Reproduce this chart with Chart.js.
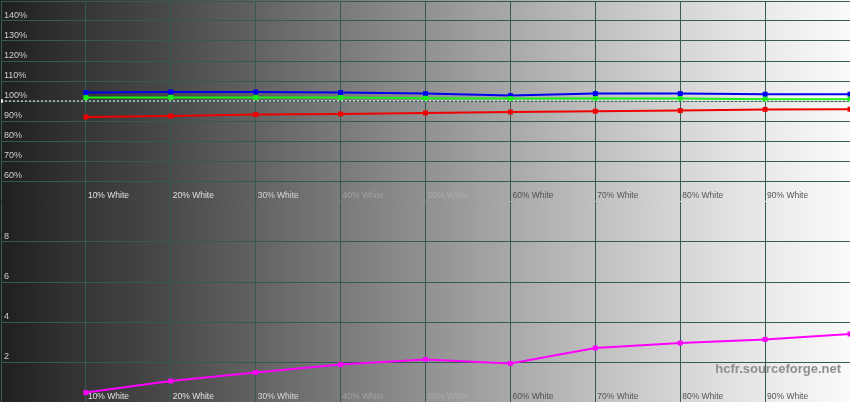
<!DOCTYPE html>
<html>
<head>
<meta charset="utf-8">
<script src="https://cdn.jsdelivr.net/npm/chart.js@4.4.1/dist/chart.umd.min.js"></script>
<style>
    html, body { margin: 0; padding: 0; background: #fff; overflow: hidden; }
    .box { position: absolute; left: 0; width: 850px; height: 201px; }
    #topBox { top: 0; }
    #bottomBox { top: 201px; }
</style>
</head>
<body>
<div class="box" id="topBox"><canvas id="rgbChart"></canvas></div>
<div class="box" id="bottomBox"><canvas id="deltaChart"></canvas></div>
<script>
// grey steps (percent of white)
const steps = [10, 20, 30, 40, 50, 60, 70, 80, 90, 100];
const stepLabels = ['10% White', '20% White', '30% White', '40% White', '50% White',
    '60% White', '70% White', '80% White', '90% White'];

// RGB levels (%)
const redLevels = [92.0, 92.5, 93.2, 93.5, 94.0, 94.5, 94.9, 95.2, 95.8, 95.9];
const greenLevels = [101.7, 101.8, 101.7, 101.7, 101.4, 101.2, 101.2, 101.2, 100.9, 100.9];
const blueLevels = [104.2, 104.5, 104.5, 104.2, 103.7, 102.7, 103.7, 103.7, 103.4, 103.4];

// delta E
const deltaE = [0.47, 1.05, 1.48, 1.87, 2.13, 1.93, 2.7, 2.95, 3.13, 3.4];

const rgbTicks = [60, 70, 80, 90, 100, 110, 120, 130, 140];
const deltaTicks = [2, 4, 6, 8];

const labelColors = ['#e0e0e0', '#e0e0e0', '#d8d8d8', '#a2a2a2', '#acacac',
    '#505050', '#555555', '#555555', '#555555'];
const gridColor = '#355a55';

function points(values) {
    return values.map((v, i) => ({ x: steps[i], y: v }));
}

const backgroundPlugin = {
    id: 'greyBackground',
    beforeDraw(chart) {
        const ctx = chart.ctx;
        const w = chart.width;
        const g = ctx.createLinearGradient(0, 0, w, 0);
        const stops = ['#1f1f1f', '#363636', '#4a4a4a', '#626262', '#7a7a7a', '#919191',
            '#a8a8a8', '#bfbfbf', '#d5d5d5', '#e9e9e9', '#fafafa'];
        stops.forEach((c, i) => g.addColorStop(i / 10, c));
        ctx.save();
        ctx.fillStyle = g;
        ctx.fillRect(0, 0, w, chart.height);
        ctx.restore();
    }
};

const stepLabelPlugin = {
    id: 'stepLabels',
    beforeDatasetsDraw(chart) {
        const ctx = chart.ctx;
        const x = chart.scales.x;
        const y = chart.chartArea.bottom - 5;
        ctx.save();
        ctx.font = '8.5px "Liberation Sans", Arial, sans-serif';
        ctx.textBaseline = 'middle';
        ctx.textAlign = 'left';
        stepLabels.forEach((lab, i) => {
            ctx.fillStyle = labelColors[i];
            ctx.fillText(lab, x.getPixelForValue(steps[i]) + 2, y);
        });
        ctx.restore();
    }
};

const watermarkPlugin = {
    id: 'watermark',
    afterDraw(chart) {
        if (chart.canvas.id !== 'deltaChart') return;
        const ctx = chart.ctx;
        ctx.save();
        ctx.font = 'bold 13px "Liberation Sans", Arial, sans-serif';
        ctx.fillStyle = '#8e8e8e';
        ctx.textAlign = 'right';
        ctx.textBaseline = 'middle';
        ctx.fillText('hcfr.sourceforge.net', 841, 168);
        ctx.restore();
    }
};

function baseOptions(yMin, yMax, yStep, shown, hidden) {
    return {
        responsive: false,
        animation: false,
        layout: { autoPadding: false, padding: { left: 1, top: 1, right: 0, bottom: 0 } },
        plugins: { legend: { display: false }, tooltip: { enabled: false } },
        scales: {
            x: {
                type: 'linear',
                min: 0,
                max: 100,
                afterFit(scale) {
                    scale.height = 0;
                    scale.paddingLeft = 0;
                    scale.paddingRight = 0;
                },
                ticks: { display: false, stepSize: 10 },
                grid: { color: gridColor, lineWidth: 1, drawTicks: false },
                border: { display: false }
            },
            y: {
                min: yMin,
                max: yMax,
                afterFit(scale) {
                    scale.width = 0;
                    scale.paddingTop = 0;
                    scale.paddingBottom = 0;
                },
                ticks: {
                    stepSize: yStep,
                    mirror: true,
                    padding: 3,
                    labelOffset: -5,
                    color: '#cfcfcf',
                    font: { size: 9, family: '"Liberation Sans", Arial, sans-serif' },
                    callback: v => shown.includes(v) ? shown.label(v) : ''
                },
                grid: {
                    drawTicks: false,
                    lineWidth: 1,
                    color: c => (c.tick && c.tick.value === hidden) ? 'rgba(0,0,0,0)' : gridColor
                },
                border: { display: false }
            }
        }
    };
}

function lineSet(values, color) {
    return {
        data: points(values),
        borderColor: color,
        backgroundColor: color,
        borderWidth: 2,
        pointStyle: 'rect',
        pointRadius: 3.5,
        pointBorderWidth: 0,
        tension: 0
    };
}

const rgbShown = rgbTicks.slice();
rgbShown.label = v => v + '%';
const deltaShown = deltaTicks.slice();
deltaShown.label = v => String(v);

const topCanvas = document.getElementById('rgbChart');
topCanvas.width = 850;
topCanvas.height = 201;
new Chart(topCanvas.getContext('2d'), {
    type: 'line',
    data: {
        datasets: [
            {
                data: [{ x: 0, y: 100 }, { x: 100, y: 100 }],
                borderColor: '#ffffff',
                backgroundColor: '#ffffff',
                borderWidth: 1,
                borderDash: [2, 2],
                pointStyle: 'rect',
                pointRadius: [2.5, 0],
                pointBorderWidth: 0
            },
            lineSet(redLevels, '#f00000'),
            lineSet(greenLevels, '#18f018'),
            lineSet(blueLevels, '#0000f0')
        ]
    },
    options: baseOptions(50, 150, 10, rgbShown, 50),
    plugins: [backgroundPlugin, stepLabelPlugin]
});

const bottomCanvas = document.getElementById('deltaChart');
bottomCanvas.width = 850;
bottomCanvas.height = 201;
new Chart(bottomCanvas.getContext('2d'), {
    type: 'line',
    data: {
        datasets: [lineSet(deltaE, '#ff00ff')]
    },
    options: baseOptions(0, 10, 2, deltaShown, 10),
    plugins: [backgroundPlugin, stepLabelPlugin, watermarkPlugin]
});
</script>
</body>
</html>
